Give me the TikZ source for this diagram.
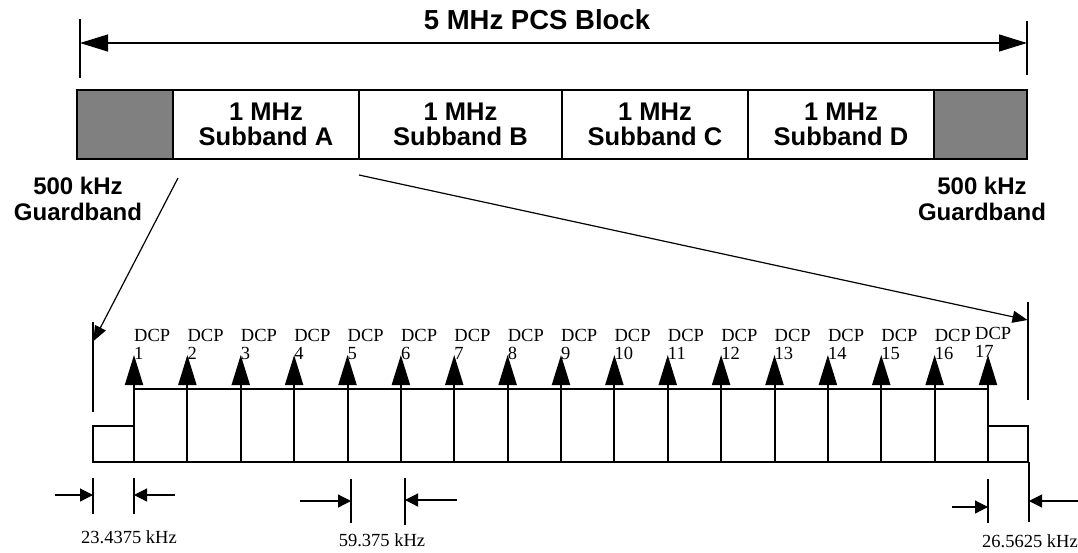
\documentclass[tikz,border=0pt]{standalone}
\usepackage{fontspec}
\setmainfont{Liberation Serif}
\newfontfamily\sansbold{Liberation Sans}
\usetikzlibrary{arrows.meta,positioning}
\definecolor{gbgray}{RGB}{128,128,128}
\tikzset{
  band/.style={draw, line width=1.5pt, minimum height=69pt, inner sep=0pt, outer sep=0pt,
    font=\sansbold\bfseries\fontsize{25.5}{25}\selectfont, align=center},
  guard/.style={band, fill=gbgray},
  gblabel/.style={font=\sansbold\bfseries\fontsize{24}{26}\selectfont, align=center},
  span/.style={line width=1.2pt, {Triangle[length=28pt,width=17pt]}-{Triangle[length=28pt,width=17pt]}},
  zoom/.style={line width=1.2pt, -{Triangle[length=15pt,width=12pt]}},
  dcp/.style={line width=2pt, -{Triangle[length=30pt,width=18pt]}},
  dcplabel/.style={font=\fontsize{18.5}{18}\selectfont, align=left, anchor=north west, inner sep=0pt},
  dim/.style={line width=1.2pt, -{Triangle[length=13pt,width=13pt]}},
  tick/.style={line width=1.2pt},
  dimlabel/.style={font=\fontsize{18.5}{20}\selectfont},
}
\begin{document}
\begin{tikzpicture}[x=1pt,y=-1pt]
\useasboundingbox (0,0) rectangle (1078,552);

% ---------- 5 MHz block ----------
\node[font=\sansbold\bfseries\fontsize{27.5}{28}\selectfont] (title) at (537,20) {5 MHz PCS Block};
\coordinate (spanL) at (80,43);
\coordinate (spanR) at (1027,43);
\draw[tick] (80,19) -- (80,78);
\draw[tick] (1027,21) -- (1027,75);
\draw[span] (spanL) -- (spanR);

\node[guard, minimum width=96pt] (gbL) at (125,124.5) {};
\node[band, minimum width=186pt] (subA) at (266,124.5) {1 MHz\\Subband A};
\node[band, minimum width=203pt] (subB) at (460.5,124.5) {1 MHz\\Subband B};
\node[band, minimum width=186pt] (subC) at (655,124.5) {1 MHz\\Subband C};
\node[band, minimum width=186pt] (subD) at (841,124.5) {1 MHz\\Subband D};
\node[guard, minimum width=93pt] (gbR) at (980.5,124.5) {};

\node[gblabel] (gbLlab) at (78,199) {500 kHz\\Guardband};
\node[gblabel] (gbRlab) at (982,199) {500 kHz\\Guardband};

% ---------- zoom on subband A ----------
\coordinate (zA1) at (178,178);
\coordinate (zA2) at (359,175);
\coordinate (zL) at (93.5,341);
\coordinate (zR) at (1027.5,320);
\draw[tick] (93,322) -- (93,412);
\draw[tick] (1028,302) -- (1028,400);
\draw[zoom] (zA1) -- (zL);
\draw[zoom] (zA2) -- (zR);

% ---------- DCP spectrum ----------
\draw[line width=1.5pt] (93,462) rectangle (134,426);
\draw[line width=1.5pt] (134,462) rectangle (988,389);
\draw[line width=1.5pt] (988,462) rectangle (1028,426);
\foreach \i in {1,...,17} {
  \pgfmathsetmacro\xx{134+(\i-1)*53.375}
  \coordinate (base\i) at (\xx,462);
  \coordinate (tip\i) at (\xx,355);
  \draw[dcp] (base\i) -- (tip\i);
}
\foreach \i in {1,...,16} {
  \pgfmathsetmacro\xx{134+(\i-1)*53.375}
  \node[dcplabel] (lab\i) at (\xx,329) {DCP\\\i};
}
\node[dcplabel] (lab17) at (975,327) {DCP\\17};

% ---------- spacings ----------
\draw[tick] (93,478) -- (93,514);
\draw[tick] (134,478) -- (134,514);
\coordinate (a1) at (55,495);  \coordinate (a1e) at (93,495);
\coordinate (a2) at (175,495); \coordinate (a2e) at (134,495);
\draw[dim] (a1) -- (a1e);
\draw[dim] (a2) -- (a2e);
\node[dimlabel] (d1) at (129,537) {23.4375 kHz};

\draw[tick] (351,479) -- (351,523);
\draw[tick] (405,478) -- (405,525);
\coordinate (b1) at (300,501); \coordinate (b1e) at (351,501);
\coordinate (b2) at (457,500); \coordinate (b2e) at (405,500);
\draw[dim] (b1) -- (b1e);
\draw[dim] (b2) -- (b2e);
\node[dimlabel] (d2) at (382,540) {59.375 kHz};

\draw[tick] (988,479) -- (988,523);
\draw[tick] (1029,462) -- (1029,522);
\coordinate (c1) at (952,507);  \coordinate (c1e) at (988,507);
\coordinate (c2) at (1078,501); \coordinate (c2e) at (1029,501);
\draw[dim] (c1) -- (c1e);
\draw[dim] (c2) -- (c2e);
\node[dimlabel] (d3) at (1030,541) {26.5625 kHz};

\end{tikzpicture}
\end{document}
